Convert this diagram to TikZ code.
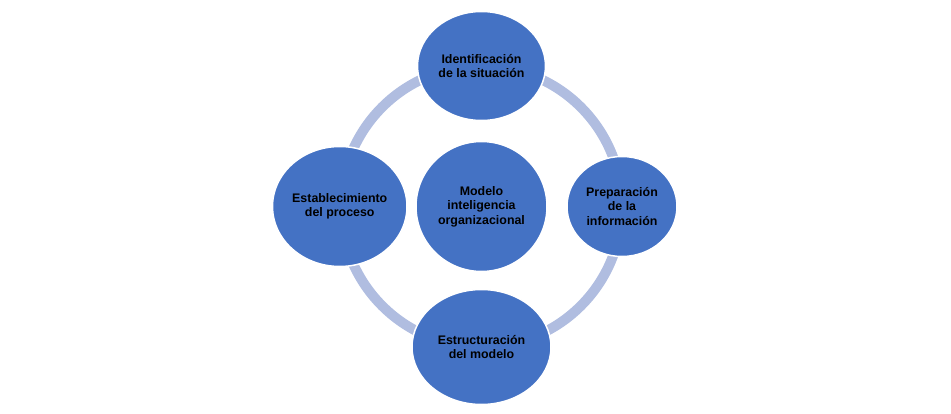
\documentclass[tikz,border=0pt]{standalone}
\usepackage{fontspec}
\setmainfont{Liberation Sans}
\usepackage{tikz}
\usetikzlibrary{positioning}
\usetikzlibrary{shapes.geometric}
\usetikzlibrary{backgrounds}
\definecolor{azul}{RGB}{68,114,196}
\definecolor{anillo}{RGB}{176,189,224}

\begin{document}
\begin{tikzpicture}[
    etapa/.style={ellipse, fill=azul, draw=white, line width=1.5pt, inner sep=0pt, outer sep=0pt,
        align=center, font=\fontsize{12.4}{14.5}\selectfont\bfseries},
    aro/.style={draw=anillo, line width=10pt}
  ]
    \useasboundingbox (0,0) rectangle (951pt,-414pt);

    \node (modelo) [etapa, minimum width=131pt, minimum height=130pt] at (481.5pt,-206.5pt)
        {Modelo\\inteligencia\\organizacional};

    \node (ident) [etapa, minimum width=128pt, minimum height=109pt, above=86pt of modelo.center]
        {Identificación\\de la situación};
    \node (prep) [etapa, minimum width=110pt, minimum height=100pt, right=85.5pt of modelo.center]
        {Preparación\\de la\\información};
    \node (estr) [etapa, minimum width=139pt, minimum height=115pt, below=83pt of modelo.center]
        {Estructuración\\del modelo};
    \node (estab) [etapa, minimum width=132pt, minimum height=120pt, left=74.5pt of modelo.center]
        {Establecimiento\\del proceso};

    \begin{scope}[on background layer]
        \draw[aro] (modelo.center) circle[radius=140.5pt];
    \end{scope}
\end{tikzpicture}
\end{document}
